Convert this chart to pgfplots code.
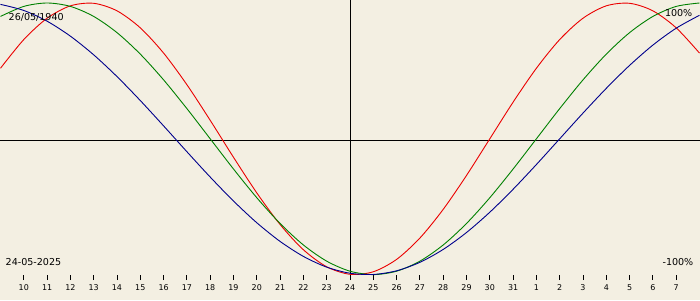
\documentclass[border=0pt]{standalone}
\usepackage{pgfplots}
\pgfplotsset{compat=1.18}
\usepackage{fontspec}
\setmainfont{DejaVu Sans}
\definecolor{bgc}{RGB}{243,239,226}
\definecolor{cred}{RGB}{235,0,0}
\definecolor{cgreen}{RGB}{0,128,0}
\definecolor{cblue}{RGB}{0,0,140}
\pgfplotstableread{
i red green blue
-1 0.5196 0.9010 0.9898
0 0.7308 0.9749 0.9450
1 0.8879 1.0000 0.8660
2 0.9791 0.9749 0.7557
3 0.9977 0.9010 0.6182
4 0.9423 0.7818 0.4582
5 0.8170 0.6235 0.2817
6 0.6311 0.4339 0.0951
7 0.3984 0.2225 -0.0951
8 0.1362 0.0000 -0.2817
9 -0.1362 -0.2225 -0.4582
10 -0.3984 -0.4339 -0.6182
11 -0.6311 -0.6235 -0.7557
12 -0.8170 -0.7818 -0.8660
13 -0.9423 -0.9010 -0.9450
14 -0.9977 -0.9749 -0.9898
15 -0.9791 -1.0000 -0.9989
16 -0.8879 -0.9749 -0.9718
17 -0.7308 -0.9010 -0.9096
18 -0.5196 -0.7818 -0.8146
19 -0.2698 -0.6235 -0.6901
20 0.0000 -0.4339 -0.5406
21 0.2698 -0.2225 -0.3717
22 0.5196 0.0000 -0.1893
23 0.7308 0.2225 0.0000
24 0.8879 0.4339 0.1893
25 0.9791 0.6235 0.3717
26 0.9977 0.7818 0.5406
27 0.9423 0.9010 0.6901
28 0.8170 0.9749 0.8146
29 0.6311 1.0000 0.9096
}\bio
\begin{document}
\begin{tikzpicture}
\fill[bgc] (0,-25bp) rectangle (700bp,275bp);
\begin{axis}[
  at={(0,0)}, anchor=south west,
  scale only axis, width=700bp, height=275bp,
  xmin=-1, xmax=29, ymin=-1.0037, ymax=1.0184,
  axis line style={draw=none},
  xtick={0,...,28},
  xticklabels={10,11,12,13,14,15,16,17,18,19,20,21,22,23,24,25,26,27,28,29,30,31,1,2,3,4,5,6,7},
  xtick pos=lower, ytick=\empty,
  tick align=outside, major tick length=5bp,
  x tick style={black, line width=1bp},
  xticklabel style={font=\fontsize{8}{9}\selectfont, anchor=base, yshift=-10.5bp},
  clip=false,
]
\draw[black, line width=1bp] (axis cs:-1,-0.0132) -- (axis cs:29,-0.0132);
\draw[black, line width=1bp] (axis cs:14,-1.0037) -- (axis cs:14,1.0184);
\addplot[cred, line width=0.9bp, smooth, no marks] table[x=i, y=red] {\bio};
\addplot[cgreen, line width=0.9bp, smooth, no marks] table[x=i, y=green] {\bio};
\addplot[cblue, line width=0.9bp, smooth, no marks] table[x=i, y=blue] {\bio};
\node[anchor=west, inner sep=0, xshift=8bp, yshift=-16.5bp, font=\fontsize{9.6}{11}\selectfont] at (rel axis cs:0,1) {26/05/1940};
\node[anchor=east, inner sep=0, xshift=-7bp, yshift=-12.5bp, font=\fontsize{9.6}{11}\selectfont] at (rel axis cs:1,1) {100\%};
\node[anchor=west, inner sep=0, xshift=5bp, yshift=13bp, font=\fontsize{9.6}{11}\selectfont] at (rel axis cs:0,0) {24-05-2025};
\node[anchor=east, inner sep=0, xshift=-6bp, yshift=13bp, font=\fontsize{9.6}{11}\selectfont] at (rel axis cs:1,0) {-100\%};
\end{axis}
\end{tikzpicture}
\end{document}
